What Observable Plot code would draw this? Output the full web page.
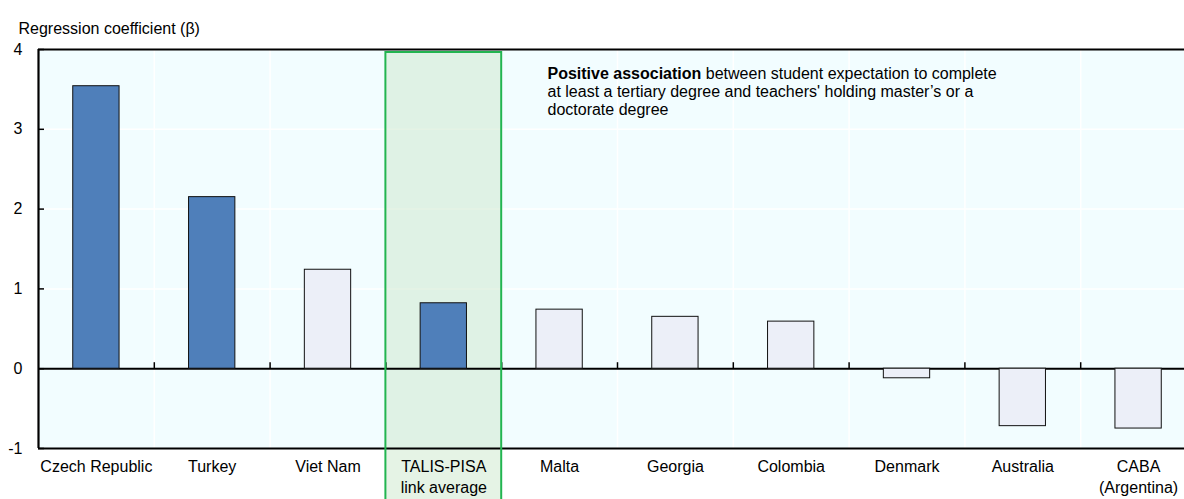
<!DOCTYPE html>
<html>
<head>
<meta charset="utf-8">
<script src="https://cdn.jsdelivr.net/npm/d3@7"></script>
<script src="https://cdn.jsdelivr.net/npm/@observablehq/plot@0.6"></script>
<style>
  html, body { margin: 0; padding: 0; background: white; overflow: hidden; }
  #chart { width: 1184px; height: 499px; overflow: hidden; }
</style>
</head>
<body>
<div id="chart"></div>
<script>
const categories = ["Czech Republic", "Turkey", "Viet Nam", "TALIS-PISA\nlink average", "Malta", "Georgia", "Colombia", "Denmark", "Australia", "CABA\n(Argentina)"];
const values = [3.54, 2.15, 1.24, 0.82, 0.74, 0.65, 0.59, -0.12, -0.72, -0.75];
const significant = [true, true, false, true, false, false, false, false, false, false];
const highlighted = ["TALIS-PISA\nlink average"];
const yTicks = [-1, 0, 1, 2, 3, 4];
const yTitle = "Regression coefficient (β)";
const noteBold = "Positive association";
const noteLines = [" between student expectation to complete", "at least a tertiary degree and teachers' holding master’s or a", "doctorate degree"];

const darkBlue = "#4f7fba";
const lightBar = "#eceff8";
const plotBg = "#f2fdff";

const data = categories.map((c, i) => ({category: c, value: values[i], sig: significant[i]}));

const xRange = [38, 1196];
const step = (xRange[1] - xRange[0]) / categories.length;
const yDomain = [yTicks[0], yTicks[yTicks.length - 1]];

const chart = Plot.plot({
  width: 1184,
  height: 499,
  marginLeft: 38,
  marginRight: 0,
  marginTop: 49,
  marginBottom: 51,
  style: {fontFamily: "'Liberation Sans', Arial, sans-serif", fontSize: "16px", color: "#000", background: "white"},
  x: {domain: categories, range: xRange, paddingInner: 0.6, paddingOuter: 0.3, round: false, axis: null},
  y: {domain: yDomain, axis: null},
  marks: [
    Plot.frame({fill: plotBg, stroke: null}),
    Plot.gridY(yTicks, {stroke: "white", strokeOpacity: 1, strokeWidth: 1.5}),
    Plot.ruleX(categories.slice(1), {x: d => d, dx: -step / 2, stroke: "white", strokeOpacity: 1, strokeWidth: 1.5}),
    Plot.barY(highlighted, {x: d => d, y1: yDomain[0], y2: yDomain[1], fill: "#cce8cb", fillOpacity: 0.5,
      insetLeft: -step * 0.3, insetRight: -step * 0.3, insetTop: 3, insetBottom: -56}),
    Plot.ruleY([0], {stroke: "black", strokeWidth: 2}),
    Plot.ruleY([yDomain[0], yDomain[1]], {stroke: "black", strokeWidth: 2.2}),
    Plot.ruleX(categories.slice(1), {x: d => d, dx: -step / 2, y1: 0, y2: 0, insetTop: -6, stroke: "black", strokeWidth: 1.5}),
    Plot.ruleX([categories[0]], {x: d => d, dx: -step / 2, stroke: "black", strokeWidth: 2.2}),
    Plot.barY(highlighted, {x: d => d, y1: yDomain[0], y2: yDomain[1], fill: "none", stroke: "#22b550", strokeWidth: 2,
      insetLeft: -step * 0.3, insetRight: -step * 0.3, insetTop: 3, insetBottom: -56}),
    Plot.barY(data, {x: "category", y: "value", fill: d => d.sig ? darkBlue : lightBar, stroke: "#111", strokeWidth: 1}),
    Plot.axisY({ticks: yTicks, tickSize: -6, tickPadding: 22, tickFormat: d => `${d}`, label: null, stroke: "black", strokeWidth: 1.5, fontSize: 16}),
    Plot.axisX({tickSize: 0, tickPadding: 8, label: null, fontSize: 16, lineHeight: 1.35}),
    Plot.text([yTitle], {frameAnchor: "top-left", dx: -20, dy: -27, textAnchor: "start", fontSize: 16}),
    Plot.text([[noteBold + noteLines[0], ...noteLines.slice(1)].join("\n")], {frameAnchor: "top-left", dx: 509, dy: 16, textAnchor: "start", lineAnchor: "top", fontSize: 16, lineHeight: 1.15})
  ]
});

document.getElementById("chart").appendChild(chart);

// Make the lead words of the note bold
d3.select(chart).selectAll("text").each(function () {
  const t = d3.select(this);
  const first = t.select("tspan");
  if (!first.empty() && first.text().startsWith(noteBold)) {
    const rest = first.text().slice(noteBold.length);
    first.text("");
    first.append("tspan").attr("font-weight", "bold").text(noteBold);
    first.append("tspan").text(rest);
  }
});
</script>
</body>
</html>
